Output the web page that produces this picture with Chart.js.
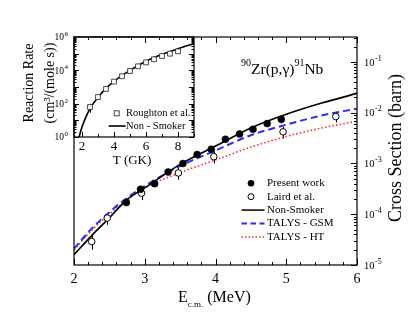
<!DOCTYPE html>
<html>
<head>
<meta charset="utf-8">
<script src="https://cdn.jsdelivr.net/npm/chart.js@4.4.1/dist/chart.umd.min.js"></script>
<style>
html, body { margin:0; padding:0; background:#fff; }
#wrap { position:relative; width:415px; height:318px; }
#main, #inset { position:absolute; left:0; top:0; }
</style>
</head>
<body>
<div id="wrap">
<canvas id="main" width="415" height="318"></canvas>
<canvas id="inset" width="210" height="175"></canvas>
</div>
<script>
// ---- main panel: cross section vs E c.m. ----
const presentE   = [2.74, 2.94, 3.14, 3.33, 3.54, 3.74, 3.94, 4.14, 4.34, 4.53, 4.73, 4.93]
const presentSig = [1.7e-4, 3.1e-4, 4.0e-4, 6.8e-4, 1.0e-3, 1.5e-3, 1.9e-3, 3.0e-3, 3.8e-3, 4.7e-3, 6.1e-3, 7.4e-3]
const presentErr = [0.2e-4, 0.4e-4, 0.5e-4, 0.8e-4, 1.2e-4, 1.8e-4, 2.3e-4, 3.5e-4, 4.5e-4, 5.5e-4, 7e-4, 12e-4]

const lairdE   = [2.25, 2.47, 2.955, 3.475, 3.976, 4.955, 5.70]
const lairdSig = [2.9e-5, 8.4e-5, 2.6e-4, 6.5e-4, 1.36e-3, 4.2e-3, 8.4e-3]
const lairdErr = [0.9e-5, 2.2e-5, 7e-5, 1.7e-4, 3.6e-4, 1.1e-3, 2.0e-3]

const curveE = [2, 2.25, 2.5, 2.75, 3, 3.5, 4, 4.5, 5, 5.5, 6]
const nonSmokerSig = [1.6e-5, 3.8e-5, 8.5e-5, 1.95e-4, 3.3e-4, 9.6e-4, 2.2e-3, 5.0e-3, 9.3e-3, 1.55e-2, 2.4e-2]
const talysGsmSig  = [2.1e-5, 5.2e-5, 1.1e-4, 2.1e-4, 3.6e-4, 8.9e-4, 1.8e-3, 3.6e-3, 5.8e-3, 8.8e-3, 1.2e-2]
const talysHtSig   = [2.0e-5, 4.8e-5, 1.0e-4, 1.9e-4, 3.3e-4, 6.6e-4, 1.17e-3, 2.1e-3, 3.4e-3, 5.0e-3, 6.8e-3]

const xTicks = [2, 3, 4, 5, 6]
const yDecades = [-5, -4, -3, -2, -1]

// ---- inset: reaction rate vs T ----
const roughT    = [2.5, 3, 3.5, 4, 4.5, 5, 5.5, 6, 6.5, 7, 7.5, 8]
const roughRate = [63, 250, 760, 2100, 4400, 9100, 1.74e4, 3.0e4, 4.6e4, 7.2e4, 1.0e5, 1.38e5]
const roughErr  = [35, 40, 100, 250, 500, 1000, 2000, 3500, 5000, 8000, 1.1e4, 1.5e4]
const nsT    = [1.82, 2, 2.25, 2.5, 3, 3.5, 4, 5, 6, 7, 8, 9]
const nsRate = [1, 4, 16, 50, 240, 830, 2200, 1.0e4, 3.5e4, 9.1e4, 2.0e5, 4.0e5]
const insetXTicks = [2, 4, 6, 8]
const insetDecades = [0, 2, 4, 6]

const FONT = '"Liberation Serif", "Times New Roman", serif'
const BLUE = '#2b2bff'
const RED = '#ff2b2b'

function pts(xs, ys) {
    return xs.map((x, i) => ({x: x, y: ys[i]}))
}

function powLabel(ctx, x, y, exp, size, align) {
    ctx.font = size + 'px ' + FONT
    const w1 = ctx.measureText('10').width
    const ss = Math.round(size * 0.72)
    ctx.font = ss + 'px ' + FONT
    const w2 = ctx.measureText(exp).width
    const x0 = align === 'right' ? x - w1 - w2 - 0.5 : x
    ctx.textAlign = 'left'
    ctx.textBaseline = 'alphabetic'
    ctx.font = size + 'px ' + FONT
    ctx.fillText('10', x0, y + size * 0.34)
    ctx.font = ss + 'px ' + FONT
    ctx.fillText(exp, x0 + w1 + 0.5, y - size * 0.12)
}

function errorBars(chart, xs, ys, errs) {
    const ctx = chart.ctx
    const sx = chart.scales.x, sy = chart.scales.y
    ctx.save()
    ctx.strokeStyle = '#000'
    ctx.lineWidth = 1
    for (let i = 0; i < xs.length; i++) {
        const px = Math.round(sx.getPixelForValue(xs[i])) + 0.5
        ctx.beginPath()
        ctx.moveTo(px, sy.getPixelForValue(ys[i] - errs[i]))
        ctx.lineTo(px, sy.getPixelForValue(ys[i] + errs[i]))
        ctx.stroke()
    }
    ctx.restore()
}

function line(ctx, x1, y1, x2, y2) {
    ctx.beginPath()
    ctx.moveTo(x1, y1)
    ctx.lineTo(x2, y2)
    ctx.stroke()
}

const mainDecor = {
    id: 'mainDecor',
    beforeDatasetsDraw(chart) {
        errorBars(chart, presentE, presentSig, presentErr)
        errorBars(chart, lairdE, lairdSig, lairdErr)
    },
    afterDraw(chart) {
        const ctx = chart.ctx
        const a = chart.chartArea
        const sx = chart.scales.x, sy = chart.scales.y
        ctx.save()
        ctx.strokeStyle = '#000'
        ctx.fillStyle = '#000'
        ctx.lineWidth = 1.2
        ctx.strokeRect(a.left, a.top, a.right - a.left, a.bottom - a.top)

        // x ticks, bottom and top, minor every 0.2
        ctx.lineWidth = 1
        for (let k = 0; k <= 20; k++) {
            const v = 2 + k * 0.2
            const px = Math.round(sx.getPixelForValue(v)) + 0.5
            const len = (k % 5 === 0) ? 6 : 3
            line(ctx, px, a.bottom, px, a.bottom - len)
            line(ctx, px, a.top, px, a.top + len)
        }
        // right log ticks
        for (let d = -5; d <= -1; d++) {
            for (let m = 1; m <= 9; m++) {
                const v = m * Math.pow(10, d)
                if (v > sy.max) continue
                const py = Math.round(sy.getPixelForValue(v)) + 0.5
                const len = m === 1 ? 6 : 3
                line(ctx, a.right, py, a.right - len, py)
            }
        }

        // x tick labels
        ctx.font = '14px ' + FONT
        ctx.textAlign = 'center'
        ctx.textBaseline = 'middle'
        xTicks.forEach(v => ctx.fillText(String(v), sx.getPixelForValue(v), 279))

        // right tick labels
        yDecades.forEach(d => powLabel(ctx, a.right + 7, sy.getPixelForValue(Math.pow(10, d)), String(d), 10.5, 'left'))

        // x title: E c.m. (MeV)
        ctx.textAlign = 'left'
        ctx.textBaseline = 'alphabetic'
        let tx = 178
        ctx.font = '16px ' + FONT
        ctx.fillText('E', tx, 302)
        tx += ctx.measureText('E').width
        ctx.font = '9px ' + FONT
        ctx.fillText('c.m.', tx, 307)
        tx += ctx.measureText('c.m.').width
        ctx.font = '16px ' + FONT
        ctx.fillText(' (MeV)', tx, 302)

        // right title
        ctx.save()
        ctx.translate(396, 148)
        ctx.rotate(-Math.PI / 2)
        ctx.font = '18px ' + FONT
        ctx.textAlign = 'center'
        ctx.textBaseline = 'middle'
        ctx.fillText('Cross Section (barn)', 0, 0)
        ctx.restore()

        // reaction label
        let rx = 241
        const parts = [['90', 10, 66], ['Zr(p,\u03b3)', 15.5, 74], ['91', 10, 66], ['Nb', 15.5, 74]]
        ctx.textAlign = 'left'
        parts.forEach(p => {
            ctx.font = p[1] + 'px ' + FONT
            ctx.fillText(p[0], rx, p[2])
            rx += ctx.measureText(p[0]).width
        })

        // legend
        const lx = 241.5, lx2 = 264.5, tx0 = 267
        const rows = [183.3, 196.7, 210.1, 223.5, 236.9]
        ctx.beginPath()
        ctx.arc(251, rows[0], 3.3, 0, Math.PI * 2)
        ctx.fill()
        ctx.beginPath()
        ctx.arc(251, rows[1], 3, 0, Math.PI * 2)
        ctx.fillStyle = '#fff'
        ctx.fill()
        ctx.lineWidth = 1
        ctx.stroke()
        ctx.fillStyle = '#000'
        ctx.lineWidth = 1.5
        line(ctx, lx, rows[2], lx2, rows[2])
        ctx.strokeStyle = BLUE
        ctx.lineWidth = 2
        ctx.setLineDash([5.5, 3.5])
        line(ctx, lx, rows[3], lx2, rows[3])
        ctx.strokeStyle = RED
        ctx.lineWidth = 1.5
        ctx.setLineDash([1.5, 2])
        line(ctx, lx, rows[4], lx2, rows[4])
        ctx.setLineDash([])
        ctx.font = '11px ' + FONT
        ctx.textBaseline = 'middle'
        const names = ['Present work', 'Laird et al.', 'Non-Smoker', 'TALYS - GSM', 'TALYS - HT']
        names.forEach((n, i) => ctx.fillText(n, tx0, rows[i]))
        ctx.restore()
    }
}

const mainChart = new Chart(document.getElementById('main'), {
    type: 'line',
    data: {
        datasets: [
            {label: 'Present work', data: pts(presentE, presentSig), showLine: false,
             pointRadius: 3.5, pointBackgroundColor: '#000', pointBorderColor: '#000', pointBorderWidth: 0.5, order: 0},
            {label: 'Laird et al.', data: pts(lairdE, lairdSig), showLine: false,
             pointRadius: 3.3, pointBackgroundColor: '#fff', pointBorderColor: '#000', pointBorderWidth: 1, order: 0},
            {label: 'Non-Smoker', data: pts(curveE, nonSmokerSig), borderColor: '#000', borderWidth: 1.7,
             pointRadius: 0, cubicInterpolationMode: 'monotone', order: 1},
            {label: 'TALYS - GSM', data: pts(curveE, talysGsmSig), borderColor: BLUE, borderWidth: 2,
             borderDash: [7, 4], pointRadius: 0, cubicInterpolationMode: 'monotone', order: 2},
            {label: 'TALYS - HT', data: pts(curveE, talysHtSig), borderColor: RED, borderWidth: 1.6,
             borderDash: [1.5, 2.2], pointRadius: 0, cubicInterpolationMode: 'monotone', order: 3}
        ]
    },
    options: {
        responsive: false,
        animation: false,
        devicePixelRatio: 1,
        layout: {padding: {left: 74, top: 37, right: 58, bottom: 53}},
        plugins: {legend: {display: false}, tooltip: {enabled: false}},
        scales: {
            x: {type: 'linear', min: 2, max: 6, display: false},
            y: {type: 'logarithmic', min: 1e-5, max: 0.31, display: false}
        }
    },
    plugins: [mainDecor]
})

const insetDecor = {
    id: 'insetDecor',
    beforeDatasetsDraw(chart) {
        errorBars(chart, roughT, roughRate, roughErr)
    },
    afterDraw(chart) {
        const ctx = chart.ctx
        const a = chart.chartArea
        const sx = chart.scales.x, sy = chart.scales.y
        ctx.save()
        ctx.strokeStyle = '#000'
        ctx.fillStyle = '#000'
        ctx.lineWidth = 1.2
        ctx.strokeRect(a.left, a.top, a.right - a.left, a.bottom - a.top)
        ctx.lineWidth = 1
        for (let t = 2; t <= 9; t++) {
            const px = Math.round(sx.getPixelForValue(t)) + 0.5
            line(ctx, px, a.bottom, px, a.bottom - (t % 2 === 0 ? 5 : 3))
        }
        for (let d = 0; d < 6; d++) {
            for (let m = 1; m <= 9; m++) {
                const py = Math.round(sy.getPixelForValue(m * Math.pow(10, d))) + 0.5
                const len = m === 1 ? 5 : 2.5
                line(ctx, a.left, py, a.left + len, py)
                line(ctx, a.right, py, a.right - len, py)
            }
        }
        ctx.font = '13px ' + FONT
        ctx.textAlign = 'center'
        ctx.textBaseline = 'middle'
        insetXTicks.forEach(v => ctx.fillText(String(v), sx.getPixelForValue(v), 147))
        ctx.fillText('T (GK)', 132, 161)
        insetDecades.forEach(d => powLabel(ctx, 68, sy.getPixelForValue(Math.pow(10, d)), String(d), 9.5, 'right'))

        // left titles
        ctx.save()
        ctx.translate(29, 83)
        ctx.rotate(-Math.PI / 2)
        ctx.font = '14px ' + FONT
        ctx.textAlign = 'center'
        ctx.textBaseline = 'middle'
        ctx.fillText('Reaction Rate', 0, 0)
        ctx.fillText('(cm\u00b3/(mole s))', 0, 21)
        ctx.restore()

        // inset legend
        ctx.strokeStyle = '#333'
        ctx.lineWidth = 0.9
        ctx.strokeRect(114.2, 110.8, 5, 5)
        ctx.strokeStyle = '#000'
        ctx.lineWidth = 1.6
        line(ctx, 108.7, 126, 125.7, 126)
        ctx.font = '10.5px ' + FONT
        ctx.textAlign = 'left'
        ctx.textBaseline = 'middle'
        ctx.fillText('Roughton et al.', 126, 113.3)
        ctx.fillText('Non - Smoker', 126, 126)
        ctx.restore()
    }
}

const insetChart = new Chart(document.getElementById('inset'), {
    type: 'line',
    data: {
        datasets: [
            {label: 'Roughton et al.', data: pts(roughT, roughRate), showLine: false, pointStyle: 'rect',
             pointRadius: 3.4, pointBackgroundColor: '#fff', pointBorderColor: '#333', pointBorderWidth: 0.9, order: 0},
            {label: 'Non - Smoker', data: pts(nsT, nsRate), borderColor: '#000', borderWidth: 1.6,
             pointRadius: 0, cubicInterpolationMode: 'monotone', order: 1}
        ]
    },
    options: {
        responsive: false,
        animation: false,
        devicePixelRatio: 1,
        layout: {padding: {left: 74, top: 37, right: 16, bottom: 38}},
        plugins: {legend: {display: false}, tooltip: {enabled: false}},
        scales: {
            x: {type: 'linear', min: 1.5, max: 9, display: false},
            y: {type: 'logarithmic', min: 1, max: 1e6, display: false}
        }
    },
    plugins: [insetDecor]
})
</script>
</body>
</html>
